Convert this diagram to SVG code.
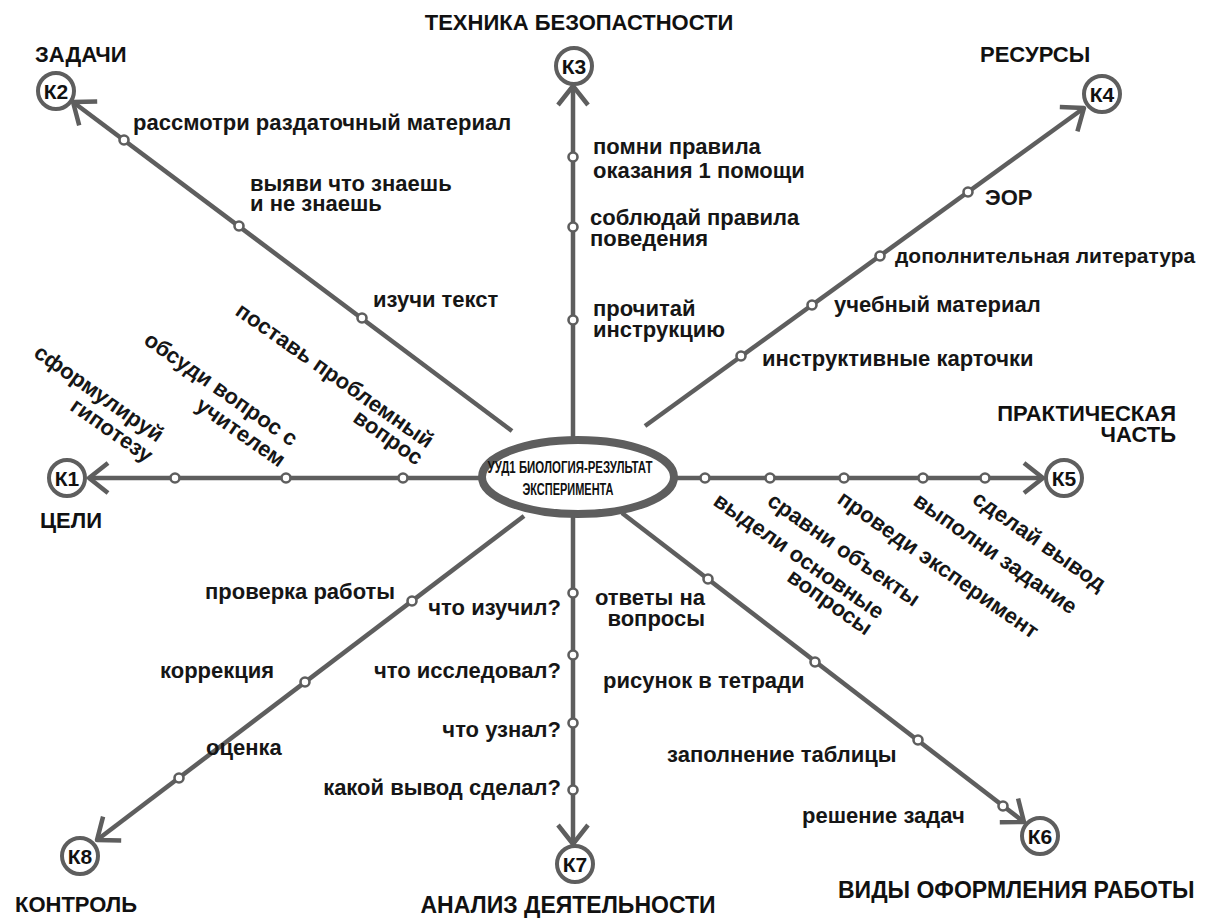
<svg xmlns="http://www.w3.org/2000/svg" width="1210" height="918" viewBox="0 0 1210 918">
<defs>
<style>
.ln{stroke:#5e5e5e;stroke-width:4.5;fill:none}
.dot{fill:#fff;stroke:#5e5e5e;stroke-width:2.6}
.kc{fill:#fff;stroke:#5e5e5e;stroke-width:4}
.kt{font-family:"Liberation Sans",Arial,sans-serif;font-weight:bold;font-size:21px;fill:#111;text-anchor:middle}
.t{font-family:"Liberation Sans",Arial,sans-serif;font-weight:bold;font-size:22px;fill:#161616}
.h{font-family:"Liberation Sans",Arial,sans-serif;font-weight:bold;font-size:22px;fill:#111}
.e{text-anchor:end}
.m{text-anchor:middle}
</style>
<marker id="arr" markerUnits="userSpaceOnUse" orient="auto" markerWidth="40" markerHeight="40" viewBox="-25 -20 30 40" refX="0" refY="0" overflow="visible">
<path d="M-19,-15 L0,0 L-19,15" fill="none" stroke="#5e5e5e" stroke-width="4.5" stroke-linejoin="round"/>
</marker>
</defs>
<rect width="1210" height="918" fill="#fff"/>

<g id="connectors">
<line class="ln" x1="486" y1="478" x2="89" y2="478" marker-end="url(#arr)"/>
<line class="ln" x1="512" y1="431" x2="73" y2="102" marker-end="url(#arr)"/>
<line class="ln" x1="573" y1="442" x2="573" y2="86" marker-end="url(#arr)"/>
<line class="ln" x1="645" y1="426" x2="1084" y2="108" marker-end="url(#arr)"/>
<line class="ln" x1="670" y1="478" x2="1043" y2="478" marker-end="url(#arr)"/>
<line class="ln" x1="622" y1="513" x2="1024" y2="822" marker-end="url(#arr)"/>
<line class="ln" x1="573" y1="512" x2="573" y2="844" marker-end="url(#arr)"/>
<line class="ln" x1="524" y1="516" x2="97" y2="840" marker-end="url(#arr)"/>
<g id="dots">
<circle class="dot" cx="175" cy="478" r="4.5"/><circle class="dot" cx="286" cy="478" r="4.5"/><circle class="dot" cx="403" cy="478" r="4.5"/>
<circle class="dot" cx="124" cy="140" r="4.5"/><circle class="dot" cx="239" cy="226" r="4.5"/><circle class="dot" cx="362" cy="318" r="4.5"/>
<circle class="dot" cx="573" cy="157" r="4.5"/><circle class="dot" cx="573" cy="227" r="4.5"/><circle class="dot" cx="573" cy="320" r="4.5"/>
<circle class="dot" cx="968" cy="192" r="4.5"/><circle class="dot" cx="880" cy="256" r="4.5"/><circle class="dot" cx="812" cy="305" r="4.5"/><circle class="dot" cx="741" cy="356" r="4.5"/>
<circle class="dot" cx="705" cy="478" r="4.5"/><circle class="dot" cx="770" cy="478" r="4.5"/><circle class="dot" cx="844" cy="478" r="4.5"/><circle class="dot" cx="923" cy="478" r="4.5"/><circle class="dot" cx="985" cy="478" r="4.5"/>
<circle class="dot" cx="708" cy="579" r="4.5"/><circle class="dot" cx="815" cy="662" r="4.5"/><circle class="dot" cx="918" cy="740" r="4.5"/><circle class="dot" cx="1003" cy="806" r="4.5"/>
<circle class="dot" cx="573" cy="593" r="4.5"/><circle class="dot" cx="573" cy="655" r="4.5"/><circle class="dot" cx="573" cy="723" r="4.5"/><circle class="dot" cx="573" cy="790" r="4.5"/>
<circle class="dot" cx="412" cy="601" r="4.5"/><circle class="dot" cx="305" cy="682" r="4.5"/><circle class="dot" cx="179" cy="778" r="4.5"/>
</g>
</g>

<g id="center">
<ellipse cx="578" cy="477" rx="96" ry="37" fill="#fff" stroke="#5e5e5e" stroke-width="8"/>
<text font-family="'Liberation Sans',Arial,sans-serif" font-weight="bold" font-size="16" fill="#111" text-anchor="middle"><tspan x="570" y="473" textLength="165" lengthAdjust="spacingAndGlyphs">УУД1 БИОЛОГИЯ-РЕЗУЛЬТАТ</tspan><tspan x="568" y="495" textLength="91" lengthAdjust="spacingAndGlyphs">ЭКСПЕРИМЕНТА</tspan></text>
</g>

<g id="k1">
<circle class="kc" cx="67" cy="478" r="18"/><text class="kt" x="67" y="486">К1</text>
<text class="h" x="40" y="528">ЦЕЛИ</text>
<g transform="translate(157,443) rotate(35)"><text class="t e"><tspan x="0" y="0">сформулируй</tspan><tspan x="3" y="23">гипотезу</tspan></text></g>
<g transform="translate(291,447) rotate(35)"><text class="t e"><tspan x="0" y="0">обсуди вопрос с</tspan><tspan x="2" y="24">учителем</tspan></text></g>
<g transform="translate(427,449) rotate(35)"><text class="t e"><tspan x="0" y="0">поставь проблемный</tspan><tspan x="1" y="20">вопрос</tspan></text></g>
</g>

<g id="k2">
<circle class="kc" cx="56" cy="91" r="18"/><text class="kt" x="56" y="99">К2</text>
<text class="h" x="35" y="62">ЗАДАЧИ</text>
<text class="t" x="133" y="130">рассмотри раздаточный материал</text>
<text class="t"><tspan x="250" y="191">выяви что знаешь</tspan><tspan x="250" y="211">и не знаешь</tspan></text>
<text class="t" x="373" y="307">изучи текст</text>
</g>

<g id="k3">
<circle class="kc" cx="574" cy="66" r="18"/><text class="kt" x="574" y="74">К3</text>
<text class="h m" x="579" y="30">ТЕХНИКА БЕЗОПАСТНОСТИ</text>
<text class="t"><tspan x="593" y="154">помни правила</tspan><tspan x="593" y="178">оказания 1 помощи</tspan></text>
<text class="t"><tspan x="590" y="225">соблюдай правила</tspan><tspan x="590" y="246">поведения</tspan></text>
<text class="t"><tspan x="593" y="316">прочитай</tspan><tspan x="593" y="337">инструкцию</tspan></text>
</g>

<g id="k4">
<circle class="kc" cx="1102" cy="94" r="18"/><text class="kt" x="1102" y="102">К4</text>
<text class="h" x="980" y="62">РЕСУРСЫ</text>
<text class="t" x="985" y="205">ЭОР</text>
<text class="t" x="895" y="263" style="font-size:21px">дополнительная литература</text>
<text class="t" x="834" y="312">учебный материал</text>
<text class="t" x="762" y="366">инструктивные карточки</text>
</g>

<g id="k5">
<circle class="kc" cx="1064" cy="478" r="18"/><text class="kt" x="1064" y="486">К5</text>
<text class="h e"><tspan x="1176" y="421">ПРАКТИЧЕСКАЯ</tspan><tspan x="1176" y="442">ЧАСТЬ</tspan></text>
<g transform="translate(712,504) rotate(35)"><text class="t"><tspan x="0" y="0">выдели основные</tspan><tspan x="104" y="20">вопросы</tspan></text></g>
<g transform="translate(766,504) rotate(35)"><text class="t">сравни объекты</text></g>
<g transform="translate(836,502) rotate(35)"><text class="t">проведи эксперимент</text></g>
<g transform="translate(912,504) rotate(35)"><text class="t">выполни задание</text></g>
<g transform="translate(971,502) rotate(35)"><text class="t">сделай вывод</text></g>
</g>

<g id="k6">
<circle class="kc" cx="1040" cy="836" r="18"/><text class="kt" x="1040" y="844">К6</text>
<text class="h" x="838" y="898" style="font-size:23px">ВИДЫ ОФОРМЛЕНИЯ РАБОТЫ</text>
<text class="t e"><tspan x="705" y="605">ответы на</tspan><tspan x="705" y="626">вопросы</tspan></text>
<text class="t" x="603" y="688">рисунок в тетради</text>
<text class="t" x="667" y="762">заполнение таблицы</text>
<text class="t" x="802" y="823">решение задач</text>
</g>

<g id="k7">
<circle class="kc" cx="575" cy="864" r="18"/><text class="kt" x="575" y="872">К7</text>
<text class="h m" x="568" y="913" style="font-size:23px">АНАЛИЗ ДЕЯТЕЛЬНОСТИ</text>
<text class="t e" x="561" y="615">что изучил?</text>
<text class="t e" x="561" y="678">что исследовал?</text>
<text class="t e" x="561" y="737">что узнал?</text>
<text class="t e" x="561" y="795">какой вывод сделал?</text>
</g>

<g id="k8">
<circle class="kc" cx="80" cy="856" r="18"/><text class="kt" x="80" y="864">К8</text>
<text class="h" x="15" y="912">КОНТРОЛЬ</text>
<text class="t" x="205" y="599">проверка работы</text>
<text class="t" x="160" y="678">коррекция</text>
<text class="t" x="206" y="755">оценка</text>
</g>
</svg>
